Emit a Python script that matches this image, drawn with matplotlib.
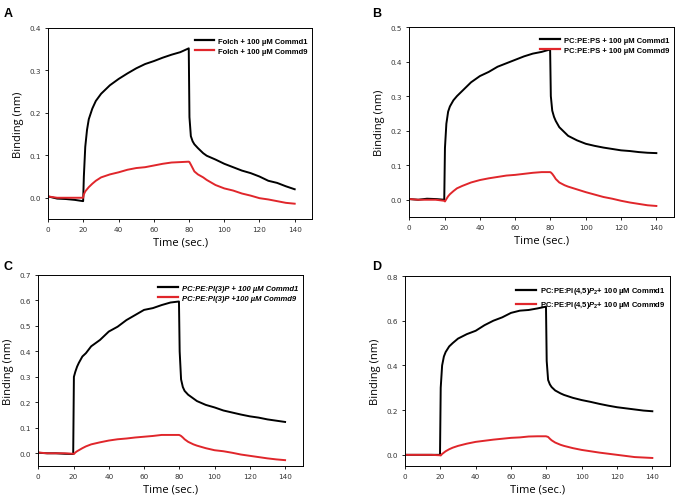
import matplotlib
matplotlib.use("Agg")
import matplotlib.pyplot as plt
import numpy as np

plt.rcParams["mathtext.fontset"] = "custom"
plt.rcParams["mathtext.rm"] = "Liberation Sans:bold"
plt.rcParams["mathtext.it"] = "Liberation Sans:italic:bold"
plt.rcParams["mathtext.bf"] = "Liberation Sans:bold"

# common time grid (s)
time = [0, 5, 10, 15, 19.8, 20.2, 21, 22, 23, 25, 27, 30, 35, 40, 45, 50, 55, 60, 65,
        70, 75, 79.8, 80.2, 81, 82, 83, 85, 88, 90, 95, 100, 105, 110, 115, 120, 125,
        130, 135, 140]

a_commd1 = [0.003, -0.002, -0.003, -0.005, -0.008, 0.05, 0.12, 0.16, 0.185, 0.21, 0.228,
            0.245, 0.265, 0.28, 0.293, 0.305, 0.315, 0.322, 0.33, 0.337, 0.343, 0.352,
            0.19, 0.145, 0.133, 0.126, 0.117, 0.105, 0.099, 0.09, 0.08, 0.072, 0.064, 0.058,
            0.05, 0.04, 0.035, 0.027, 0.02]
a_commd9 = [0.003, 0.0, 0.0, 0.0, 0.0, 0.008, 0.015, 0.02, 0.025, 0.033, 0.04, 0.048,
            0.055, 0.06, 0.066, 0.07, 0.072, 0.076, 0.08, 0.083, 0.084, 0.085, 0.084,
            0.078, 0.07, 0.062, 0.055, 0.048, 0.042, 0.03, 0.022, 0.017, 0.01, 0.005,
            -0.001, -0.004, -0.008, -0.012, -0.014]

b_commd1 = [0.002, 0.0, 0.003, 0.002, 0.0, 0.15, 0.22, 0.255, 0.27, 0.288, 0.3, 0.315,
            0.34, 0.358, 0.37, 0.385, 0.395, 0.405, 0.415, 0.423, 0.428, 0.435, 0.30,
            0.258, 0.24, 0.228, 0.21, 0.195, 0.185, 0.172, 0.162, 0.156, 0.151, 0.147,
            0.143, 0.141, 0.138, 0.136, 0.135]
b_commd9 = [0.002, 0.0, 0.0, 0.0, -0.003, -0.005, 0.002, 0.01, 0.016, 0.025, 0.033, 0.04,
            0.05, 0.057, 0.062, 0.066, 0.07, 0.072, 0.075, 0.078, 0.08, 0.08, 0.079,
            0.075, 0.068, 0.06, 0.05, 0.042, 0.038, 0.03, 0.022, 0.015, 0.008, 0.003,
            -0.003, -0.008, -0.012, -0.016, -0.018]

c_commd1 = [0.002, 0.0, 0.0, -0.002, -0.003, 0.30, 0.32, 0.34, 0.355, 0.38, 0.393, 0.42,
            0.445, 0.478, 0.497, 0.523, 0.543, 0.563, 0.57, 0.582, 0.592, 0.596, 0.40,
            0.29, 0.26, 0.245, 0.23, 0.215, 0.205, 0.19, 0.18, 0.168, 0.16, 0.152,
            0.145, 0.14, 0.133, 0.128, 0.123]
c_commd9 = [0.003, 0.0, 0.0, 0.0, -0.002, -0.003, 0.003, 0.008, 0.012, 0.02, 0.027, 0.035,
            0.043, 0.05, 0.055, 0.058, 0.062, 0.065, 0.068, 0.072, 0.072, 0.072, 0.071,
            0.068, 0.062, 0.055, 0.045, 0.035, 0.03, 0.02, 0.012, 0.008, 0.002, -0.005,
            -0.01, -0.015, -0.02, -0.024, -0.027]

d_commd1 = [0.0, 0.0, 0.0, 0.0, 0.0, 0.30, 0.40, 0.44, 0.46, 0.485, 0.5, 0.52, 0.54,
            0.555, 0.58, 0.6, 0.615, 0.635, 0.645, 0.648, 0.655, 0.663, 0.42,
            0.335, 0.315, 0.303, 0.288, 0.275, 0.268, 0.255, 0.245, 0.237, 0.228, 0.22,
            0.213, 0.208, 0.203, 0.198, 0.195]
d_commd9 = [0.0, 0.0, 0.0, 0.0, -0.002, -0.003, 0.004, 0.01, 0.016, 0.025, 0.032, 0.04,
            0.05, 0.058, 0.063, 0.068, 0.072, 0.076, 0.078, 0.082, 0.083, 0.083, 0.082,
            0.08, 0.072, 0.065, 0.055, 0.045, 0.04, 0.03, 0.022, 0.016, 0.01, 0.005,
            0.0, -0.005, -0.01, -0.012, -0.014]

panels = [
    dict(letter="A", c1=a_commd1, c9=a_commd9, ymax=0.4, yticks=[0.0, 0.1, 0.2, 0.3, 0.4],
         lab1="Folch + 100 µM Commd1", lab9="Folch + 100 µM Commd9", style="normal",
         pos=[0.070, 0.5618, 0.3826, 0.3805], lpos=(0.005, 0.985)),
    dict(letter="B", c1=b_commd1, c9=b_commd9, ymax=0.5, yticks=[0.0, 0.1, 0.2, 0.3, 0.4, 0.5],
         lab1="PC:PE:PS + 100 µM Commd1", lab9="PC:PE:PS + 100 µM Commd9", style="normal",
         pos=[0.5932, 0.5657, 0.3836, 0.3785], lpos=(0.54, 0.985)),
    dict(letter="C", c1=c_commd1, c9=c_commd9, ymax=0.7,
         yticks=[0.0, 0.1, 0.2, 0.3, 0.4, 0.5, 0.6, 0.7],
         lab1="PC:PE:PI(3)P + 100 µM Commd1", lab9="PC:PE:PI(3)P +100 µM Commd9", style="italic",
         pos=[0.0555, 0.0697, 0.3832, 0.3805], lpos=(0.005, 0.48)),
    dict(letter="D", c1=d_commd1, c9=d_commd9, ymax=0.8, yticks=[0.0, 0.2, 0.4, 0.6, 0.8],
         lab1=r"PC:PE:PI(4,5)$P_2$+ 100 µM Commd1", lab9=r"PC:PE:PI(4,5)$P_2$+ 100 µM Commd9",
         style="normal", pos=[0.587, 0.0697, 0.384, 0.3785], lpos=(0.54, 0.48)),
]

xticks = [0, 20, 40, 60, 80, 100, 120, 140]
black = "#000000"
red = "#e0262b"

fig = plt.figure(figsize=(6.9, 5.02), dpi=100)
for p in panels:
    ax = fig.add_axes(p["pos"])
    ax.plot(time, p["c1"], color=black, lw=1.4, label=p["lab1"])
    ax.plot(time, p["c9"], color=red, lw=1.4, label=p["lab9"])
    ax.set_xlim(0, 150)
    ax.set_ylim(-0.05, p["ymax"])
    ax.set_xticks(xticks)
    ax.set_yticks(p["yticks"])
    ax.set_yticklabels([f"{v:.1f}" for v in p["yticks"]])
    ax.tick_params(direction="out", length=2.5, width=0.6, labelsize=5.2,
                   labelcolor="#333333", pad=2.5)
    for s in ax.spines.values():
        s.set_linewidth(0.7)
    ax.set_xlabel("Time (sec.)", fontsize=8, family="Open Sans", labelpad=3)
    ax.set_ylabel("Binding (nm)", fontsize=8, family="Open Sans", labelpad=4)
    leg = ax.legend(loc="upper right", bbox_to_anchor=(1.0, 0.975), frameon=False,
                    handlelength=2.6, handletextpad=0.5, borderaxespad=0.2, labelspacing=0.4,
                    prop=dict(family="Liberation Sans", weight="bold", style=p["style"], size=5.5))
    for h in leg.get_lines():
        h.set_linewidth(1.6)
    fig.text(p["lpos"][0], p["lpos"][1], p["letter"], fontsize=9, fontweight="bold",
             family="Liberation Sans", va="top", ha="left")

fig.savefig("out.png", dpi=100)
